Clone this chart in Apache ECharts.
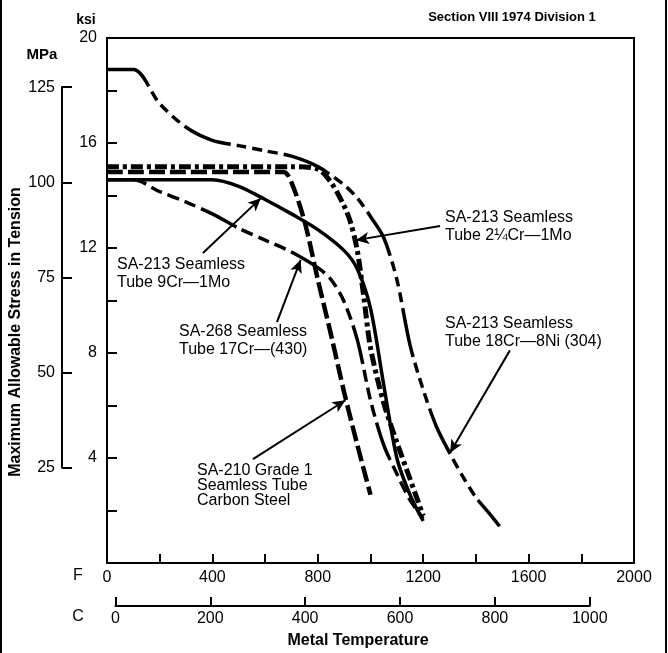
<!DOCTYPE html>
<html>
<head>
<meta charset="utf-8">
<title>Maximum Allowable Stress in Tension</title>
<script src="https://cdn.jsdelivr.net/npm/echarts@6/dist/echarts.min.js"></script>
<style>
  html, body { margin: 0; padding: 0; background: #fff; }
  #chart { width: 668px; height: 653px; }
</style>
</head>
<body>
<div id="chart"></div>
<script>
const FONT = "Liberation Sans";
const KSI_PER_MPA = 0.145038;

// metal temperature (F) vs allowable stress (ksi)
const temp304 = [0, 100, 200, 300, 400, 500, 600, 700, 800, 900, 950, 1000, 1050, 1100, 1150, 1200, 1250, 1300, 1350, 1400, 1450, 1490];
const stress304 = [18.8, 18.8, 17.5, 16.6, 16.1, 15.9, 15.7, 15.5, 15.1, 14.4, 13.9, 13.2, 12.4, 10.8, 8.3, 6.6, 5.2, 4.2, 3.3, 2.5, 1.9, 1.4];

const temp22Cr = [0, 700, 800, 850, 900, 925, 950, 975, 1000, 1050, 1100, 1150, 1200];
const stress22Cr = [15.1, 15.1, 15.0, 14.5, 13.6, 12.95, 11.9, 10.1, 8.2, 6.1, 4.6, 3.2, 1.8];

const temp9Cr = [0, 400, 500, 600, 700, 800, 900, 950, 1000, 1050, 1100, 1150, 1200];
const stress9Cr = [14.6, 14.6, 14.35, 13.85, 13.3, 12.7, 11.9, 11.2, 9.7, 6.8, 4.0, 2.6, 1.6];

const temp17Cr = [0, 100, 200, 300, 400, 500, 600, 700, 800, 850, 900, 950, 1000, 1050, 1100, 1150, 1200];
const stress17Cr = [14.6, 14.6, 14.15, 13.75, 13.3, 12.75, 12.3, 11.85, 11.25, 10.8, 9.95, 8.5, 6.2, 4.5, 3.4, 2.4, 1.7];

const tempCarbon = [0, 670, 700, 750, 800, 850, 900, 950, 1000];
const stressCarbon = [14.9, 14.9, 14.5, 13.0, 10.8, 8.7, 6.5, 4.5, 2.6];

// tick labels
const fLabels = [0, 400, 800, 1200, 1600, 2000];
const cLabels = [0, 200, 400, 600, 800, 1000];
const ksiLabels = [4, 8, 12, 16, 20];
const mpaLabels = [25, 50, 75, 100, 125];

const pairs = (xs, ys) => xs.map((x, i) => [x, ys[i]]);

// main plot box in pixels
const PLOT = { left: 107, top: 38, width: 527, height: 525 };
const F_MAX = 2000, KSI_MAX = 20;

const black = "#000";
const tickFont = { color: black, fontSize: 16, fontFamily: FONT };

const arrow = (from, to) => ({
  silent: true,
  symbol: ["none", "arrow"],
  symbolSize: [9, 13],
  label: { show: false },
  lineStyle: { color: black, width: 2, type: "solid" },
  data: [[{ coord: from }, { coord: to }]],
});

const curve = (name, data, width, type, mark) => ({
  name: name,
  type: "line",
  xAxisIndex: 0,
  yAxisIndex: 0,
  data: data,
  showSymbol: false,
  smooth: 0.3,
  lineStyle: { color: black, width: width, type: type },
  markLine: mark,
});

const label = (x, y, text, lh) => ({
  type: "text",
  x: x,
  y: y,
  z: 100,
  style: {
    text: text,
    font: "16px " + FONT,
    fill: black,
    lineHeight: lh,
    verticalAlign: "top",
  },
});

const chart = echarts.init(document.getElementById("chart"));
chart.setOption({
  animation: false,
  backgroundColor: "#fff",
  grid: [
    {
      left: PLOT.left, top: PLOT.top, width: PLOT.width, height: PLOT.height,
      show: true, borderColor: black, borderWidth: 2,
    },
    {
      // MPa scale, same stress axis as ksi
      left: 62,
      top: PLOT.top + (1 - (125 * KSI_PER_MPA) / KSI_MAX) * PLOT.height,
      width: 10,
      height: ((100 * KSI_PER_MPA) / KSI_MAX) * PLOT.height,
    },
    {
      // Celsius scale, 0 C = 32 F, 1000 C = 1832 F
      left: PLOT.left + (32 / F_MAX) * PLOT.width,
      width: (1800 / F_MAX) * PLOT.width,
      top: 566,
      height: 40,
    },
  ],
  xAxis: [
    {
      gridIndex: 0, type: "value", min: 0, max: F_MAX, interval: 200,
      axisLine: { lineStyle: { color: black, width: 2 } },
      axisTick: { inside: true, length: 9, lineStyle: { color: black, width: 2 } },
      axisLabel: Object.assign({ margin: 7, formatter: (v) => (fLabels.includes(v) ? String(v) : "") }, tickFont),
      splitLine: { show: false },
    },
    { gridIndex: 1, type: "value", min: 0, max: 1, show: false },
    {
      gridIndex: 2, type: "value", min: 0, max: 1000, interval: 200,
      axisLine: { lineStyle: { color: black, width: 2 } },
      axisTick: { inside: true, length: 9, lineStyle: { color: black, width: 2 } },
      axisLabel: Object.assign({ margin: 5, formatter: (v) => (cLabels.includes(v) ? String(v) : "") }, tickFont),
      splitLine: { show: false },
    },
  ],
  yAxis: [
    {
      gridIndex: 0, type: "value", min: 0, max: KSI_MAX, interval: 2,
      axisLine: { lineStyle: { color: black, width: 2 } },
      axisTick: { inside: true, length: 10, lineStyle: { color: black, width: 2 } },
      axisLabel: Object.assign({ margin: 10, formatter: (v) => (ksiLabels.includes(v) ? String(v) : "") }, tickFont),
      splitLine: { show: false },
    },
    {
      gridIndex: 1, type: "value", min: 25, max: 125, interval: 25, position: "left",
      axisLine: { show: true, lineStyle: { color: black, width: 2 } },
      axisTick: { inside: true, length: 10, lineStyle: { color: black, width: 2 } },
      axisLabel: Object.assign({ margin: 7, formatter: (v) => (mpaLabels.includes(v) ? String(v) : "") }, tickFont),
      splitLine: { show: false },
    },
    { gridIndex: 2, type: "value", min: 0, max: 1, show: false },
  ],
  series: [
    curve("SA-213 18Cr-8Ni (304)", pairs(temp304, stress304), 3.5, [50, 6, 10, 6, 10, 6, 10, 6],
      arrow([1529, 8.1], [1302, 4.2])),
    curve("SA-213 2¼Cr-1Mo", pairs(temp22Cr, stress22Cr), 5, [12, 4, 4, 4],
      arrow([1264, 12.84], [945, 12.3])),
    curve("SA-213 9Cr-1Mo", pairs(temp9Cr, stress9Cr), 3.5, "solid",
      arrow([364, 11.81], [584, 13.9])),
    curve("SA-268 17Cr (430)", pairs(temp17Cr, stress17Cr), 3.5, [40, 6, 12, 6, 12, 6, 12, 6],
      arrow([645, 9.18], [735, 11.55])),
    curve("SA-210 Grade 1", pairs(tempCarbon, stressCarbon), 4.5, [16, 5],
      arrow([554, 3.96], [905, 6.2])),
  ],
  graphic: [
    { type: "rect", shape: { x: 0, y: 0, width: 2, height: 653 }, style: { fill: black } },
    { type: "rect", shape: { x: 665, y: 0, width: 2, height: 653 }, style: { fill: black } },
    {
      type: "text", x: 512, y: 17,
      style: { text: "Section VIII 1974 Division 1", font: "bold 13px " + FONT, fill: black, align: "center", verticalAlign: "middle" },
    },
    {
      type: "text", x: 86, y: 20,
      style: { text: "ksi", font: "bold 14px " + FONT, fill: black, align: "center", verticalAlign: "middle" },
    },
    {
      type: "text", x: 42, y: 55,
      style: { text: "MPa", font: "bold 15px " + FONT, fill: black, align: "center", verticalAlign: "middle" },
    },
    {
      type: "text", x: 16, y: 332, rotation: Math.PI / 2,
      style: { text: "Maximum Allowable Stress in Tension", font: "bold 16px " + FONT, fill: black, align: "center", verticalAlign: "middle" },
    },
    {
      type: "text", x: 358, y: 641,
      style: { text: "Metal Temperature", font: "bold 16px " + FONT, fill: black, align: "center", verticalAlign: "middle" },
    },
    {
      type: "text", x: 78, y: 576,
      style: { text: "F", font: "16px " + FONT, fill: black, align: "center", verticalAlign: "middle" },
    },
    {
      type: "text", x: 78, y: 617,
      style: { text: "C", font: "16px " + FONT, fill: black, align: "center", verticalAlign: "middle" },
    },
    label(117, 256, "SA-213 Seamless\nTube 9Cr—1Mo", 18),
    label(179, 323, "SA-268 Seamless\nTube 17Cr—(430)", 18),
    label(197, 463, "SA-210 Grade 1\nSeamless Tube\nCarbon Steel", 15),
    label(445, 209, "SA-213 Seamless\nTube 2¼Cr—1Mo", 18),
    label(445, 315, "SA-213 Seamless\nTube 18Cr—8Ni (304)", 18),
  ],
});
</script>
</body>
</html>
